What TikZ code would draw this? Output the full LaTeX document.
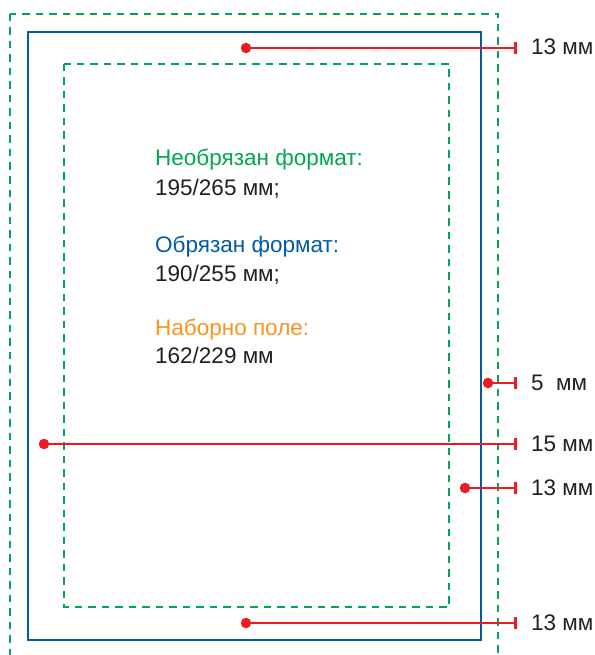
\documentclass[tikz,border=0pt]{standalone}
\usepackage{fontspec}
\setmainfont{Liberation Sans}
\usetikzlibrary{arrows.meta}
\definecolor{fgreen}{RGB}{0,166,81}
\definecolor{fblue}{RGB}{0,91,170}
\definecolor{fred}{RGB}{237,28,36}
\definecolor{forange}{RGB}{247,148,29}
\definecolor{ftext}{RGB}{35,31,32}
\begin{document}
\begin{tikzpicture}[x=1pt,y=-1pt,
  trimline/.style={fgreen, line width=2.4pt, dash pattern=on 7.5pt off 6pt},
  cutline/.style={fblue, line width=2.8pt},
  dimline/.style={fred, line width=2.6pt, -{Bar[width=12pt,line width=2.6pt]}},
  reddot/.style={circle, fill=fred, inner sep=0pt, minimum size=10.5pt},
  dimlabel/.style={anchor=base west, inner sep=0pt, text=ftext, font=\fontsize{22.5}{26}\selectfont},
  bodytext/.style={anchor=base west, inner sep=0pt, font=\fontsize{22.5}{26}\selectfont}]
\useasboundingbox (0,0) rectangle (594,655);
\clip (0,0) rectangle (594,655);
% formats
\draw[trimline] (10,14) rectangle (498,690);
\draw[cutline] (28,32) rectangle (481,640);
\draw[trimline] (64,64) rectangle (449,607);
% texts
\node[bodytext, text=fgreen] (t1) at (155,165) {Необрязан формат:};
\node[bodytext, text=ftext] (t2) at (155,195) {195/265 мм;};
\node[bodytext, text=fblue] (t3) at (155,252) {Обрязан формат:};
\node[bodytext, text=ftext] (t4) at (155,281) {190/255 мм;};
\node[bodytext, text=forange] (t5) at (155,335) {Наборно поле:};
\node[bodytext, text=ftext] (t6) at (155,363) {162/229 мм};
% dimension markers
\node[reddot] (d1) at (246,48) {};
\node[reddot] (d2) at (488,383) {};
\node[reddot] (d3) at (44,444) {};
\node[reddot] (d4) at (465,488) {};
\node[reddot] (d5) at (246,623) {};
\coordinate (e1) at (517,48);
\coordinate (e2) at (517,383);
\coordinate (e3) at (517,444);
\coordinate (e4) at (517,488);
\coordinate (e5) at (517,623);
\draw[dimline] (d1.center) -- (e1);
\draw[dimline] (d2.center) -- (e2);
\draw[dimline] (d3.center) -- (e3);
\draw[dimline] (d4.center) -- (e4);
\draw[dimline] (d5.center) -- (e5);
\node[dimlabel] (l1) at (531,55) {13 мм};
\node[dimlabel] (l2) at (531,390) {5\ \ мм};
\node[dimlabel] (l3) at (531,451) {15 мм};
\node[dimlabel] (l4) at (531,495) {13 мм};
\node[dimlabel] (l5) at (531,630) {13 мм};
\end{tikzpicture}
\end{document}
